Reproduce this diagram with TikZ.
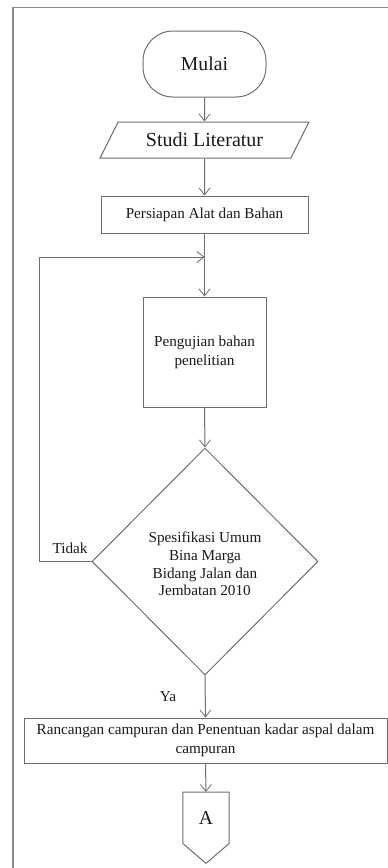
\documentclass[tikz,border=0pt]{standalone}
\usepackage{fontspec}
\setmainfont{Liberation Serif}
\usetikzlibrary{shapes.geometric,arrows.meta,calc}
\definecolor{lc}{HTML}{6E6E6E}
\definecolor{tc}{HTML}{1A1A1A}
\tikzset{
  box/.style={draw=lc,line width=1pt,rectangle,inner sep=2pt,align=center,text=tc,font=\fontsize{15.2}{19}\selectfont},
  arr/.style={draw=lc,line width=1pt,-{Straight Barb[length=7pt,width=11pt,line width=0.8pt]}},
  ln/.style={draw=lc,line width=1pt},
  lbl/.style={text=tc,font=\fontsize{15.2}{17}\selectfont,inner sep=0pt}
}
\begin{document}
\begin{tikzpicture}[x=1pt,y=-1pt]
\useasboundingbox (0,0) rectangle (388,868);
% frame
\draw[draw=lc!80,line width=1.3pt] (388,7.5) -- (13,7.5) -- (13,868);
% nodes
\node[box,rounded corners=30pt,minimum width=123pt,minimum height=66pt,font=\fontsize{19.7}{22}\selectfont] (mulai) at (204.5,64) {Mulai};
\node[box,trapezium,trapezium left angle=55,trapezium right angle=125,trapezium stretches=true,minimum width=209pt,minimum height=36pt,font=\fontsize{20}{22}\selectfont] (studi) at (204.5,140) {Studi Literatur};
\node[box,minimum width=207pt,minimum height=37pt] (persiapan) at (204.5,214.5) {Persiapan Alat dan Bahan};
\node[box,minimum width=123pt,minimum height=110pt] (uji) at (204.5,352) {Pengujian bahan\\penelitian};
\node[box,diamond,aspect=1,inner sep=0pt,minimum width=226pt,minimum height=227pt,font=\fontsize{15.2}{17.8}\selectfont] (spek) at (205,561.5) {};
\node[text=tc,align=center,inner sep=0pt,font=\fontsize{15.2}{17.8}\selectfont] (spektext) at (205,564) {Spesifikasi Umum\\Bina Marga\\Bidang Jalan dan\\Jembatan 2010};
\node[box,minimum width=363pt,minimum height=45pt] (ranc) at (205.5,740.5) {Rancangan campuran dan Penentuan kadar aspal dalam\\campuran};
\node[rectangle,inner sep=0pt,minimum width=46pt,minimum height=51pt,anchor=north] (A) at (206,792) {};
\node[text=tc,font=\fontsize{19.7}{22}\selectfont,inner sep=0pt] (Alab) at (206,818) {A};
\draw[ln] (A.north west) -- (A.north east) -- (A.south east) -- ($(A.south)+(0,20)$) -- (A.south west) -- cycle;
% labels
\node[lbl] (tidak) at (70,548) {Tidak};
\node[lbl] (ya) at (168,697) {Ya};
% connectors
\draw[arr] (mulai.south) -- (studi.north);
\draw[arr] (studi.south) -- (persiapan.north);
\draw[arr] (persiapan.south) -- (uji.north);
\draw[arr] (uji.south) -- (spek.north);
\draw[arr] (spek.south) -- (ranc.north);
\draw[arr] (ranc.south) -- (A.north);
\coordinate (join) at (204.5,257);
\draw[ln] (spek.west) -- (39,561.5) -- (39,257) -- (join);
\draw[arr] (39,257) -- (join);
\end{tikzpicture}
\end{document}
